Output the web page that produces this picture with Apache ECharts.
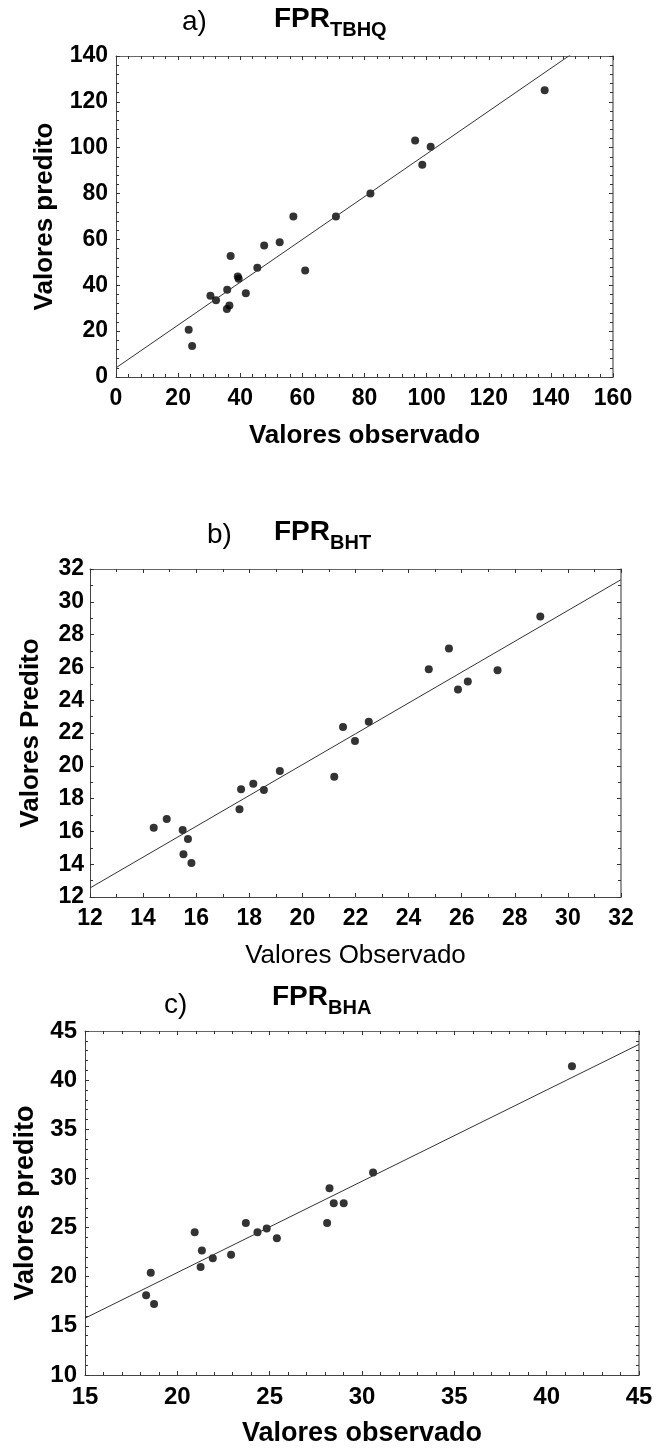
<!DOCTYPE html>
<html>
<head>
<meta charset="utf-8">
<script src="https://cdn.jsdelivr.net/npm/echarts@6/dist/echarts.min.js"></script>
<style>
html,body{margin:0;padding:0;background:#fff;}
#chart{width:656px;height:1448px;}
</style>
</head>
<body>
<div id="chart"></div>
<script>
// Panel a) FPR TBHQ: [observed, predicted]
var pointsA = [[23.4,20.6],[24.5,13.5],[30.4,35.4],[32.2,33.5],[35.8,38.0],[35.7,29.7],[36.5,31.2],[36.9,52.8],[39.2,43.8],[39.5,42.9],[41.8,36.5],[45.5,47.7],[47.7,57.4],[52.7,58.8],[57.1,70.0],[60.9,46.5],[70.8,70.0],[81.9,80.0],[96.3,103.1],[98.6,92.6],[101.3,100.4],[138.0,125.1]];
var fitA = [[0,4.0],[160,153.3]];
// Panel b) FPR BHT
var pointsB = [[14.40,16.22],[14.89,16.76],[15.49,16.08],[15.69,15.53],[15.52,14.61],[15.82,14.08],[17.63,17.35],[17.69,18.57],[18.15,18.90],[18.55,18.53],[19.15,19.69],[21.20,19.33],[21.53,22.37],[21.98,21.51],[22.50,22.69],[24.76,25.88],[25.52,27.16],[25.86,24.65],[26.23,25.14],[27.35,25.82],[28.96,29.10]];
var fitB = [[12,12.55],[32,31.35]];
// Panel c) FPR BHA
var pointsC = [[18.31,18.11],[18.56,20.41],[18.74,17.23],[20.94,24.53],[21.33,22.67],[21.26,20.98],[21.92,21.89],[22.91,22.23],[23.71,25.47],[24.34,24.53],[24.84,24.90],[25.39,23.92],[28.11,25.47],[28.24,28.99],[28.47,27.47],[29.01,27.47],[30.60,30.61],[41.37,41.41]];
var fitC = [[15,15.78],[45,43.64]];

var panelLabels = ['a)','b)','c)'];
var panelSubs = ['TBHQ','BHT','BHA'];
var xTitles = ['Valores observado','Valores Observado','Valores observado'];
var yTitles = ['Valores predito','Valores Predito','Valores predito'];
var xRanges = [[0,160,20,5],[12,32,2,2],[15,45,5,5]];
var yRanges = [[0,140,20,5],[12,32,2,2],[10,45,5,5]];

var FONT = '"Liberation Sans", Arial, sans-serif';
var grids = [
  {left:116, top:56, width:497, height:321},
  {left:90, top:569, width:531, height:328},
  {left:85, top:1031, width:554, height:345}
];
var titlePos = [
  {lab:[182,8], fpr:[274,5]},
  {lab:[207,521], fpr:[274,518]},
  {lab:[164,991], fpr:[272,983]}
];
var tickFont = [23, 23, 24];
var yLabMargin = [8, 6, 8];
var xTitleStyle = [
  {fontWeight:'bold', fontSize:26, gap:46},
  {fontWeight:'normal', fontSize:26, gap:46},
  {fontWeight:'bold', fontSize:27, gap:45}
];
var yTitleStyle = [
  {fontSize:26, gap:58},
  {fontSize:26, gap:46},
  {fontSize:27, gap:44}
];

var xAxes = [], yAxes = [], series = [], titles = [];
var pts = [pointsA, pointsB, pointsC];
var fits = [fitA, fitB, fitC];

for (var i = 0; i < 3; i++) {
  var xr = xRanges[i], yr = yRanges[i];
  var base = {
    gridIndex: i, type: 'value', splitLine: {show:false},
    axisTick: {show:true, inside:true, length:4, lineStyle:{color:'#333', width:1}},
    minorTick: {show:true, splitNumber:0, length:3, lineStyle:{color:'#333', width:1}},
    axisLine: {show:true, onZero:false, lineStyle:{color:'#444', width:1}}
  };
  xAxes.push(Object.assign({}, base, {
    min: xr[0], max: xr[1], interval: xr[2], position:'bottom',
    minorTick: Object.assign({}, base.minorTick, {splitNumber: xr[3]}),
    axisLabel: {show:true, fontFamily:FONT, fontWeight:'bold', fontSize:tickFont[i], color:'#000', margin:10,
      showMinLabel:true, showMaxLabel:true},
    name: xTitles[i], nameLocation:'middle', nameGap: xTitleStyle[i].gap,
    nameTextStyle: {fontFamily:FONT, fontWeight:xTitleStyle[i].fontWeight, fontSize:xTitleStyle[i].fontSize, color:'#000'}
  }));
  xAxes.push(Object.assign({}, base, {
    min: xr[0], max: xr[1], interval: xr[2], position:'top',
    minorTick: Object.assign({}, base.minorTick, {splitNumber: xr[3]}),
    axisLine: {show:true, onZero:false, lineStyle:{color:'#666', width:1}},
    axisLabel: {show:false}
  }));
  yAxes.push(Object.assign({}, base, {
    min: yr[0], max: yr[1], interval: yr[2], position:'left',
    minorTick: Object.assign({}, base.minorTick, {splitNumber: yr[3]}),
    axisLabel: {show:true, fontFamily:FONT, fontWeight:'bold', fontSize:tickFont[i], color:'#000', margin:yLabMargin[i],
      showMinLabel:true, showMaxLabel:true},
    name: yTitles[i], nameLocation:'middle', nameGap: yTitleStyle[i].gap, nameRotate: 90,
    nameTextStyle: {fontFamily:FONT, fontWeight:'bold', fontSize:yTitleStyle[i].fontSize, color:'#000'}
  }));
  yAxes.push(Object.assign({}, base, {
    min: yr[0], max: yr[1], interval: yr[2], position:'right',
    minorTick: Object.assign({}, base.minorTick, {splitNumber: yr[3]}),
    axisLine: {show:true, onZero:false, lineStyle:{color:'#777', width:1.5}},
    axisLabel: {show:false}
  }));
  series.push({
    type:'line', xAxisIndex: 2*i, yAxisIndex: 2*i, data: fits[i], symbol:'none',
    clip:true, lineStyle:{color:'#333', width:1}, silent:true, animation:false
  });
  series.push({
    type:'scatter', xAxisIndex: 2*i, yAxisIndex: 2*i, data: pts[i], symbol:'circle', symbolSize:8,
    itemStyle:{color:'#000'}, animation:false
  });
  titles.push({
    text: panelLabels[i], left: titlePos[i].lab[0], top: titlePos[i].lab[1], padding:0,
    textStyle: {fontFamily:FONT, fontWeight:'normal', fontSize:28, color:'#000'}
  });
  titles.push({
    text: '{m|FPR}{s|' + panelSubs[i] + '}', left: titlePos[i].fpr[0], top: titlePos[i].fpr[1], padding:0,
    textStyle: {
      fontFamily:FONT, color:'#000',
      rich: {
        m: {fontFamily:FONT, fontWeight:'bold', fontSize:28, lineHeight:32, verticalAlign:'top', color:'#000'},
        s: {fontFamily:FONT, fontWeight:'bold', fontSize:20, lineHeight:20, padding:[15,0,0,0], verticalAlign:'top', color:'#000'}
      }
    }
  });
}

var chart = echarts.init(document.getElementById('chart'), null, {renderer:'canvas'});
chart.setOption({
  backgroundColor:'#fff',
  animation:false,
  title: titles,
  grid: grids,
  xAxis: xAxes,
  yAxis: yAxes,
  series: series
});
</script>
</body>
</html>
